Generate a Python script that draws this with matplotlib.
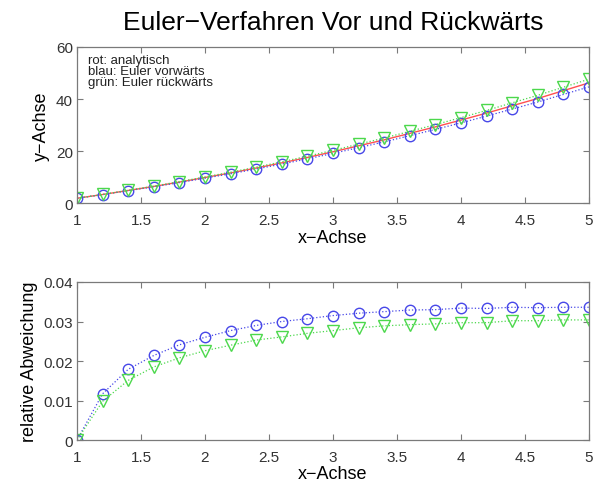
import matplotlib
matplotlib.use('Agg')
import matplotlib.pyplot as plt

# x-Werte (Schrittweite 0.2)
x = [1.0, 1.2, 1.4, 1.6, 1.8, 2.0, 2.2, 2.4, 2.6, 2.8, 3.0,
     3.2, 3.4, 3.6, 3.8, 4.0, 4.2, 4.4, 4.6, 4.8, 5.0]

# analytische Loesung (rot)
y_ana = [2.0, 3.44, 4.99, 6.54, 8.20, 9.96, 11.72, 13.59, 15.57, 17.64, 19.82,
         22.11, 24.39, 26.88, 29.37, 31.97, 34.65, 37.46, 40.25, 43.25, 46.25]

# Euler vorwaerts (blau)
y_vor = [2.0, 3.40, 4.90, 6.40, 8.00, 9.70, 11.40, 13.20, 15.10, 17.10, 19.20,
         21.40, 23.60, 26.00, 28.40, 30.90, 33.50, 36.20, 38.90, 41.80, 44.70]

# Euler rueckwaerts (gruen)
y_rueck = [2.0, 3.47, 5.07, 6.66, 8.37, 10.19, 12.00, 13.93, 15.98, 18.12, 20.37,
           22.74, 25.09, 27.66, 30.23, 32.92, 35.68, 38.59, 41.47, 44.56, 47.66]

# relative Abweichung
dev_vor = [0.0, 0.0117, 0.0179, 0.0214, 0.0241, 0.0260, 0.0277, 0.0290, 0.0300, 0.0307, 0.0315,
           0.0321, 0.0325, 0.0329, 0.0330, 0.0334, 0.0333, 0.0336, 0.0335, 0.0336, 0.0336]
dev_rueck = [0.0, 0.0098, 0.0151, 0.0185, 0.0208, 0.0226, 0.0240, 0.0253, 0.0261, 0.0270, 0.0277,
             0.0284, 0.0289, 0.0292, 0.0294, 0.0297, 0.0297, 0.0302, 0.0302, 0.0304, 0.0304]

xticks = [1, 1.5, 2, 2.5, 3, 3.5, 4, 4.5, 5]
xticklabels = ['1', '1.5', '2', '2.5', '3', '3.5', '4', '4.5', '5']

plt.rcParams['font.family'] = ['Liberation Sans', 'DejaVu Sans']

blau = '#4848e8'
gruen = '#4cd84c'
rot = '#ff5050'
grau = '#7a7a7a'


def style_axes(ax):
    for s in ax.spines.values():
        s.set_color(grau)
        s.set_linewidth(0.9)
    ax.tick_params(direction='in', top=True, right=True, length=4,
                   color=grau, labelcolor='#333333', labelsize=11)
    ax.tick_params(axis='x', pad=7)
    ax.tick_params(axis='y', pad=3)
    ax.set_xlim(1, 5)
    ax.set_xticks(xticks)
    ax.set_xticklabels(xticklabels)


fig = plt.figure(figsize=(5.95, 4.85), dpi=100)

# oberes Bild
ax1 = fig.add_axes([0.1294, 0.5784, 0.8605, 0.3227])
ax1.plot(x, y_ana, '-', color=rot, lw=1.0)
ax1.plot(x, y_vor, ':', color=blau, marker='o', ms=7.5, mfc='none', mec=blau, mew=1.0, lw=0.9)
ax1.plot(x, y_rueck, ':', color=gruen, marker='v', ms=8, mfc='none', mec=gruen, mew=1.0, lw=0.9)
style_axes(ax1)
ax1.set_ylim(0, 60)
ax1.set_yticks([0, 20, 40, 60])
ax1.set_title('Euler\u2212Verfahren Vor und Rückwärts', fontsize=19, pad=13)
ax1.set_xlabel('x\u2212Achse', fontsize=13, labelpad=1)
ax1.set_ylabel('y\u2212Achse', fontsize=13, labelpad=4)
ax1.text(0.021, 0.955, 'rot: analytisch\nblau: Euler vorwärts\ngrün: Euler rückwärts',
         transform=ax1.transAxes, va='top', ha='left', fontsize=9.5,
         linespacing=0.9, color='#222222')

# unteres Bild
ax2 = fig.add_axes([0.1294, 0.0907, 0.8605, 0.3258])
ax2.plot(x, dev_vor, ':', color=blau, marker='o', ms=7.5, mfc='none', mec=blau, mew=1.0, lw=0.9)
ax2.plot(x, dev_rueck, ':', color=gruen, marker='v', ms=8, mfc='none', mec=gruen, mew=1.0, lw=0.9)
style_axes(ax2)
ax2.set_ylim(0, 0.04)
ax2.set_yticks([0, 0.01, 0.02, 0.03, 0.04])
ax2.set_yticklabels(['0', '0.01', '0.02', '0.03', '0.04'])
ax2.set_xlabel('x\u2212Achse', fontsize=13, labelpad=1)
ax2.set_ylabel('relative Abweichung', fontsize=13, labelpad=4)

plt.savefig('out.png', dpi=100)
